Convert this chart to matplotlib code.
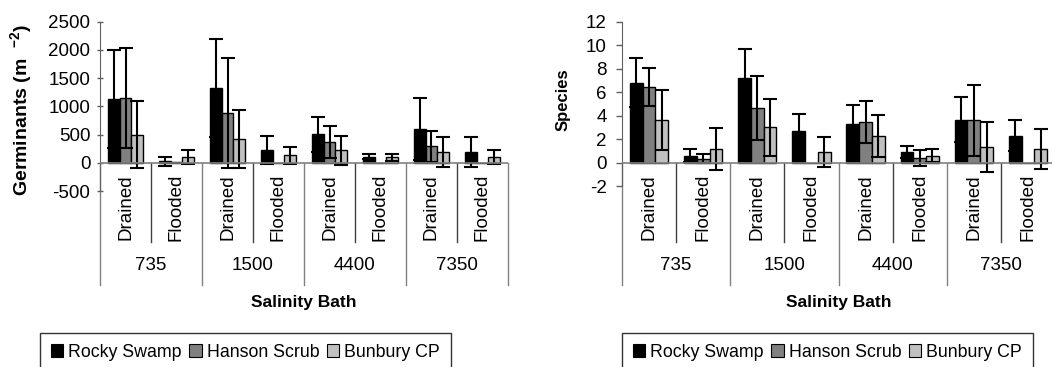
import numpy as np
import matplotlib.pyplot as plt
from matplotlib.transforms import blended_transform_factory
from matplotlib.patches import Patch

plt.rcParams['font.family'] = ['Liberation Sans', 'DejaVu Sans']
plt.rcParams['mathtext.default'] = 'regular'
plt.rcParams['axes.unicode_minus'] = False

# ---- data ----
conditions = ['Drained', 'Flooded'] * 4
salinity = ['735', '1500', '4400', '7350']
sites = ['Rocky Swamp', 'Hanson Scrub', 'Bunbury CP']
site_colors = ['#000000', '#808080', '#C0C0C0']

germ_rocky = [1130, 30, 1320, 230, 505, 110, 600, 190]
germ_rocky_err = [870, 80, 865, 250, 310, 50, 555, 260]
germ_hanson = [1150, 20, 880, 0, 370, 0, 290, 0]
germ_hanson_err = [880, 0, 970, 0, 290, 0, 280, 0]
germ_bunbury = [500, 100, 420, 130, 220, 100, 190, 100]
germ_bunbury_err = [600, 130, 520, 150, 260, 60, 260, 130]

sp_rocky = [6.8, 0.6, 7.2, 2.7, 3.3, 0.9, 3.65, 2.3]
sp_rocky_err = [2.1, 0.55, 2.5, 1.45, 1.65, 0.5, 1.9, 1.3]
sp_hanson = [6.45, 0.35, 4.65, 0, 3.45, 0.4, 3.6, 0]
sp_hanson_err = [1.65, 0.4, 2.7, 0, 1.8, 0.65, 3.05, 0]
sp_bunbury = [3.6, 1.15, 3.0, 0.9, 2.3, 0.6, 1.35, 1.15]
sp_bunbury_err = [2.55, 1.8, 2.4, 1.3, 1.8, 0.55, 2.1, 1.7]

W, H = 1052, 367
FS = 13.5


def fx(px):
    return px / W


def fy(py):
    return 1 - py / H


fig = plt.figure(figsize=(W / 100, H / 100), dpi=100)


def draw_panel(left, right, top, bottom, ylim, yticks, series, errs,
               ylabel, ylabel_x, ylabel_y, ylabel_fs, tick_dir, tick_len, tick_pad):
    ax = fig.add_axes([fx(left), fy(bottom), fx(right - left), fy(top) - fy(bottom)])
    ax.set_xlim(0, 8)
    ax.set_ylim(*ylim)
    ax.set_yticks(yticks)
    ax.tick_params(axis='y', labelsize=FS, direction=tick_dir, length=tick_len,
                   pad=tick_pad, color='#606060', width=1)
    ax.set_xticks([])
    for s in ['top', 'right', 'bottom']:
        ax.spines[s].set_visible(False)
    ax.spines['left'].set_color('#606060')

    w = 0.235
    x = np.arange(8) + 0.5
    for j, (vals, err) in enumerate(zip(series, errs)):
        xs = x + (j - 1) * w
        ax.bar(xs, vals, width=w, color=site_colors[j], edgecolor='black',
               linewidth=1.0, zorder=2)
        keep = [i for i in range(8) if err[i] > 0]
        ax.errorbar(xs[keep], np.array(vals)[keep], yerr=np.array(err)[keep],
                    fmt='none', ecolor='black', elinewidth=1.5, capsize=5,
                    capthick=1.5, zorder=3)
    ax.axhline(0, color='#808080', lw=1.2, zorder=4)

    # multi-level category axis below the zero line
    trans = blended_transform_factory(ax.transData, fig.transFigure)
    zero_py = top + (bottom - top) * (ylim[1] - 0) / (ylim[1] - ylim[0])
    for xi in [1, 3, 5, 7]:
        ax.plot([xi, xi], [fy(zero_py), fy(242)], color='#404040', lw=1,
                transform=trans, clip_on=False)
    for xi in [0, 2, 4, 6, 8]:
        ax.plot([xi, xi], [fy(zero_py), fy(285)], color='#808080', lw=1,
                transform=trans, clip_on=False)
    for i, c in enumerate(conditions):
        ax.text(i + 0.5, fy(174), c, rotation=90, ha='center', va='top',
                fontsize=FS, transform=trans)
    for k, s in enumerate(salinity):
        ax.text(2 * k + 1, fy(266), s, ha='center', va='center',
                fontsize=FS, transform=trans)
    ax.text(4, fy(303), 'Salinity Bath', ha='center', va='center',
            fontsize=12.5, fontweight='bold', transform=trans)
    fig.text(fx(ylabel_x), fy(ylabel_y), ylabel, rotation=90,
             ha='center', va='center', fontsize=ylabel_fs, fontweight='bold')
    return ax


draw_panel(100, 508, 21.7, 191, (-500, 2500), range(-500, 2501, 500),
           [germ_rocky, germ_hanson, germ_bunbury],
           [germ_rocky_err, germ_hanson_err, germ_bunbury_err],
           'Germinants (m  $^{-2}$)', 21, 110, 14, 'inout', 4, 5)
draw_panel(622, 1055, 21.7, 186.2, (-2, 12), range(-2, 13, 2),
           [sp_rocky, sp_hanson, sp_bunbury],
           [sp_rocky_err, sp_hanson_err, sp_bunbury_err],
           'Species', 563, 100, 12, 'out', 4.5, 6.5)

handles = [Patch(facecolor=c, edgecolor='black', linewidth=0.8) for c in site_colors]
for lx in [40, 622]:
    leg = fig.legend(handles, sites, loc='upper left',
                     bbox_to_anchor=(fx(lx), fy(333)), ncol=3, fontsize=12.8,
                     frameon=True, fancybox=False, edgecolor='black',
                     handlelength=0.7, handleheight=0.7, handletextpad=0.3,
                     columnspacing=0.4, borderpad=0.6, borderaxespad=0)
    leg.get_frame().set_linewidth(1.0)

fig.savefig('out.png', dpi=100)
